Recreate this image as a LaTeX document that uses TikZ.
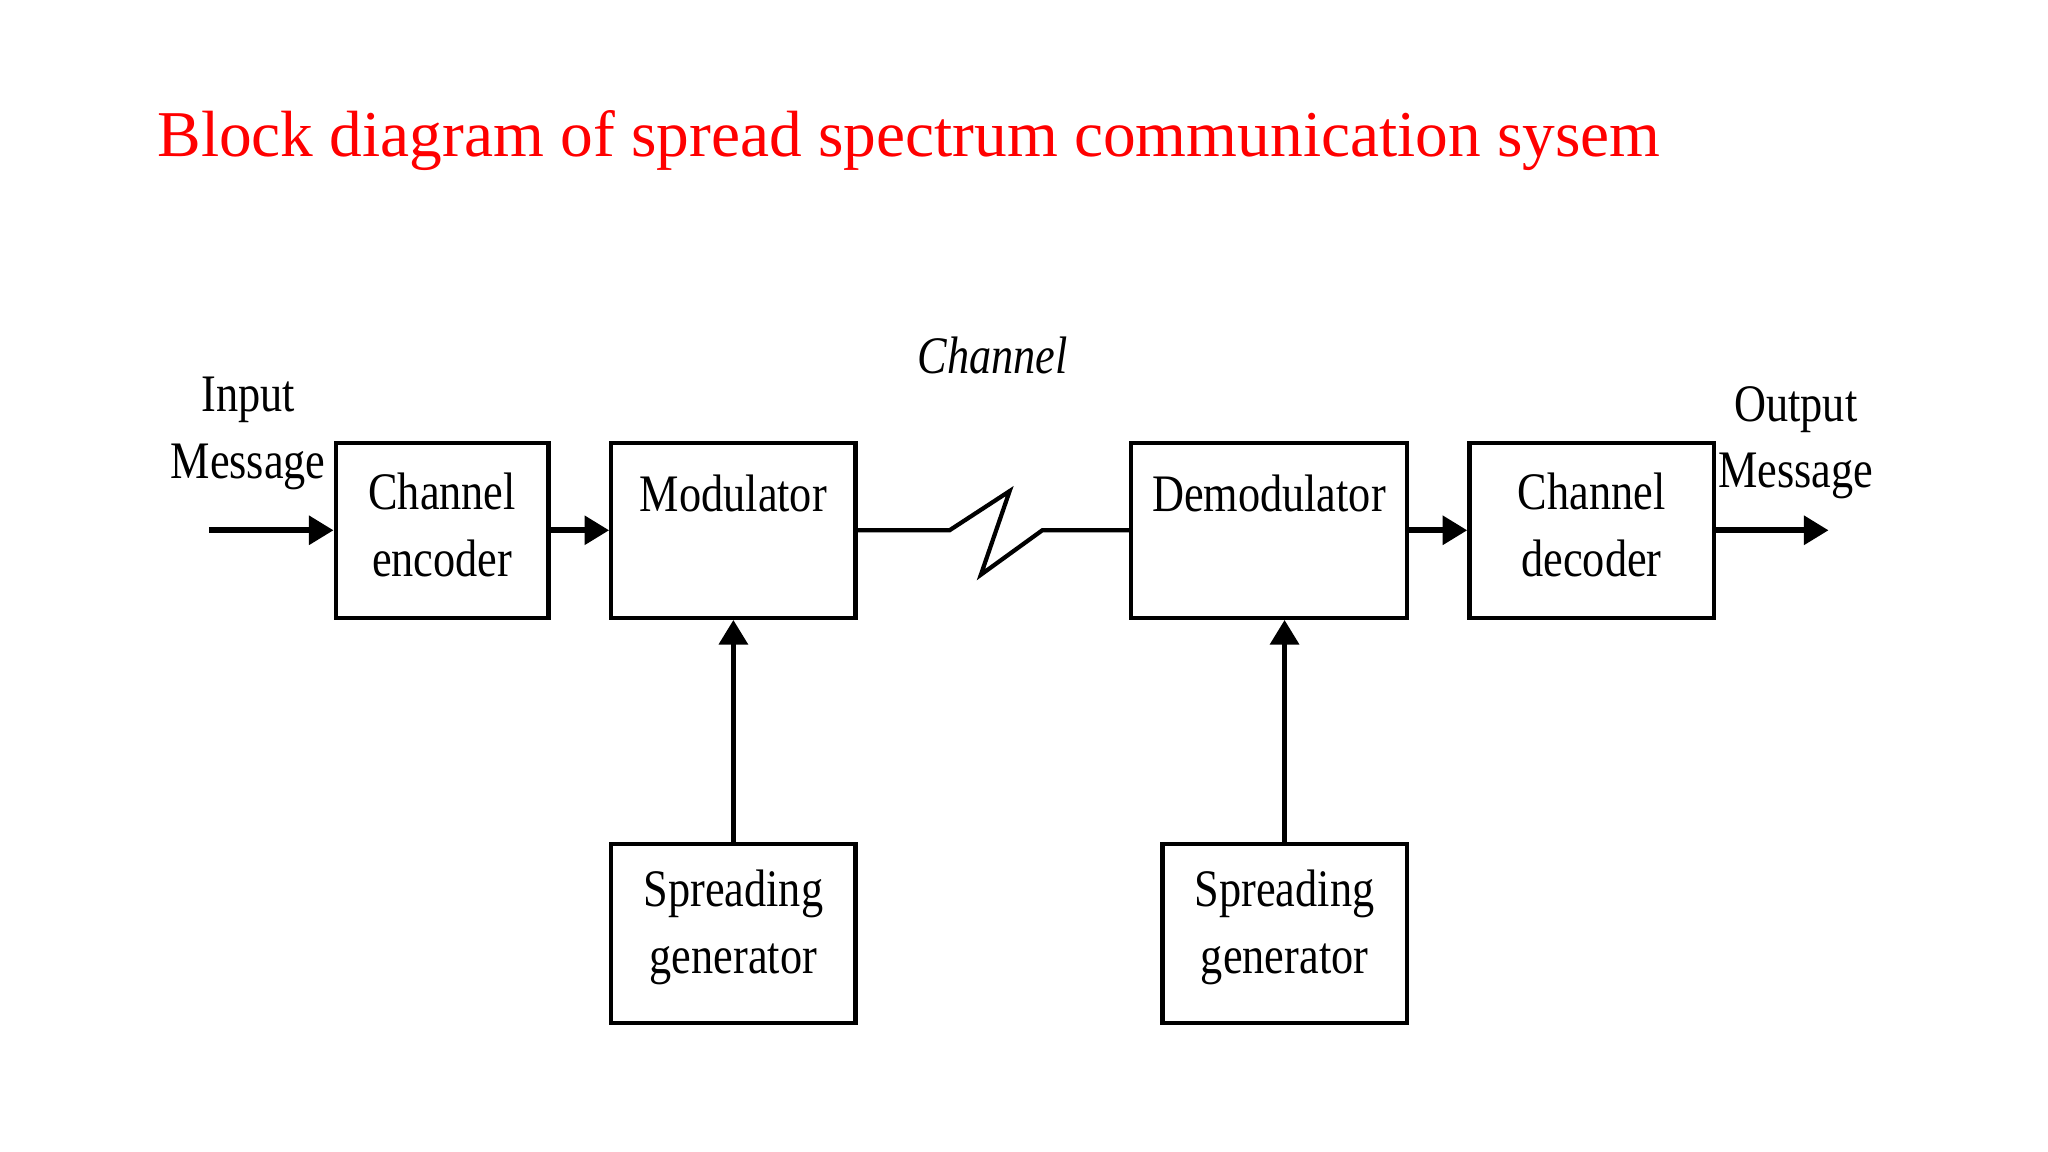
\documentclass[tikz,border=0pt]{standalone}
\usepackage{fontspec}
\setmainfont{Liberation Serif}
\newfontfamily\narrowf{Liberation Serif}[FakeStretch=0.84]
\usetikzlibrary{arrows.meta}
\tikzset{
  blk/.style={draw,line width=1.2pt,inner sep=0pt},
  txt/.style={align=center,font=\narrowf\fontsize{15}{19}\selectfont},
  flow/.style={line width=1.6pt,-{Triangle[length=7pt,width=8pt]}},
  wire/.style={line width=1.2pt}
}
\begin{document}
\begin{tikzpicture}[x=0.01306cm,y=-0.01306cm]
    % page size
    \useasboundingbox (0,0) rectangle (1568,882);
    % title
    \node[anchor=base west,text=red,inner sep=0pt,font=\fontsize{18.6}{22}\selectfont] (title) at (120,120) {Block diagram of spread spectrum communication sysem};
    % the blocks
    \node[blk,minimum width=163*0.01306cm,minimum height=134*0.01306cm] (enc) at (338.5,406) {};
    \node[blk,minimum width=187*0.01306cm,minimum height=134*0.01306cm] (mod) at (561.5,406) {};
    \node[blk,minimum width=211*0.01306cm,minimum height=134*0.01306cm] (demod) at (971.5,406) {};
    \node[blk,minimum width=187*0.01306cm,minimum height=134*0.01306cm] (dec) at (1218.5,406) {};
    \node[blk,minimum width=187*0.01306cm,minimum height=137*0.01306cm] (sg1) at (561.5,714.5) {};
    \node[blk,minimum width=187*0.01306cm,minimum height=137*0.01306cm] (sg2) at (983.5,714.5) {};
    % block texts
    \node[txt] at (338.5,402) {Channel\\encoder};
    \node[txt] at (561.5,378) {Modulator};
    \node[txt] at (971.5,378) {Demodulator};
    \node[txt] at (1218.5,402) {Channel\\decoder};
    \node[txt] at (561.5,710) {Spreading\\generator};
    \node[txt] at (983.5,710) {Spreading\\generator};
    % labels
    \node[txt,font=\narrowf\itshape\fontsize{15}{19}\selectfont] (chan) at (760,272) {Channel};
    \node[txt] (in) at (190,332) {Input\\Message};
    \node[txt] (out) at (1375,339) {Output\\Message};
    \coordinate (inS) at (160,406);
    \coordinate (outE) at (1400,406);
    % connectors
    \draw[flow] (inS) -- (enc.west);
    \draw[flow] (enc.east) -- (mod.west);
    \draw[flow] (demod.east) -- (dec.west);
    \draw[flow] (dec.east) -- (outE);
    \draw[flow] (sg1.north) -- (mod.south);
    \draw[flow] (sg2.north) -- (sg2.north |- demod.south);
    % the channel zigzag
    \draw[wire] (mod.east) -- (727,406) -- (773,376) -- (751,440) -- (798,406) -- (demod.west);
\end{tikzpicture}
\end{document}
